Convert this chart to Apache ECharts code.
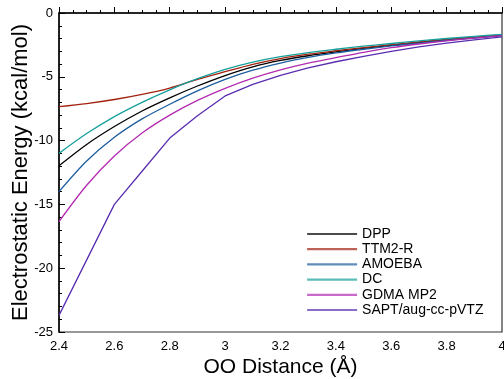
<!DOCTYPE html>
<html>
<head>
<meta charset="utf-8">
<script src="https://cdn.jsdelivr.net/npm/echarts@6/dist/echarts.min.js"></script>
<style>html,body{margin:0;padding:0;background:#fff}#c{width:504px;height:379px}</style>
</head>
<body>
<div id="c"></div>
<script>
const distances = [2.4, 2.5, 2.6, 2.7, 2.8, 2.9, 3.0, 3.1, 3.2, 3.3, 3.4, 3.5, 3.6, 3.7, 3.8, 3.9, 4.0];
const seriesNames = ['DPP', 'TTM2-R', 'AMOEBA', 'DC', 'GDMA MP2', 'SAPT/aug-cc-pVTZ'];
const dpp    = [-11.97, -10.3, -8.9, -7.68, -6.65, -5.72, -4.9, -4.22, -3.72, -3.35, -3.05, -2.78, -2.54, -2.32, -2.11, -1.93, -1.74];
const ttm2r  = [-7.34, -7.1, -6.78, -6.38, -5.88, -5.2, -4.6, -4.02, -3.57, -3.23, -2.96, -2.71, -2.48, -2.27, -2.07, -1.89, -1.72];
const amoeba = [-14.0, -11.6, -9.74, -8.3, -7.15, -6.1, -5.2, -4.48, -3.92, -3.48, -3.13, -2.84, -2.58, -2.36, -2.15, -1.96, -1.77];
const dc     = [-11.0, -9.45, -8.12, -7.0, -6.02, -5.15, -4.42, -3.85, -3.42, -3.1, -2.84, -2.6, -2.39, -2.19, -2.0, -1.83, -1.67];
const gdma   = [-16.35, -13.5, -11.2, -9.4, -8.0, -6.85, -5.9, -5.1, -4.45, -3.92, -3.5, -3.08, -2.72, -2.43, -2.18, -1.97, -1.78];
const sapt   = [-23.7, -19.35, -15.0, -12.4, -9.8, -8.05, -6.5, -5.6, -4.88, -4.3, -3.82, -3.4, -3.0, -2.66, -2.36, -2.1, -1.87];
const xTicks = {min: 2.4, max: 4.0, step: 0.2};
const yTicks = {min: -25, max: 0, step: 5};

const values = [dpp, ttm2r, amoeba, dc, gdma, sapt];
const colors = ['#000000', '#a3200f', '#1d5e9e', '#16a09c', '#b22bb0', '#5a2db0'];
const smoothFlags = [0.3, 0.3, 0.3, 0.3, 0.3, false];

const font = '"Liberation Sans", Arial, Helvetica, sans-serif';
const chart = echarts.init(document.getElementById('c'), null, {renderer: 'canvas'});
chart.setOption({
  animation: false,
  backgroundColor: '#fff',
  grid: {left: 59, right: 2, top: 13, bottom: 47, containLabel: false, outerBoundsMode: 'none',
    show: true, borderColor: '#333', borderWidth: 1.2, backgroundColor: 'transparent'},
  legend: {
    orient: 'vertical', left: 301, top: 222,
    itemWidth: 50, itemHeight: 14, itemGap: 1.2,
    data: seriesNames,
    textStyle: {fontFamily: font, fontSize: 14, color: '#000'},
    itemStyle: {opacity: 0},
    lineStyle: {opacity: 0.7, width: 2.2}
  },
  xAxis: {
    type: 'value', min: xTicks.min, max: xTicks.max, interval: xTicks.step,
    name: 'OO Distance (Å)', nameLocation: 'middle', nameGap: 25, nameMoveOverlap: false,
    nameTextStyle: {fontFamily: font, fontSize: 21, color: '#000'},
    axisLine: {lineStyle: {color: '#000', width: 1.5}},
    axisTick: {inside: true, length: 6, lineStyle: {color: '#000'}},
    minorTick: {show: true, splitNumber: 4, length: 3, lineStyle: {color: '#000'}},
    splitLine: {show: false},
    axisLabel: {fontFamily: font, fontSize: 13, color: '#000', margin: 8,
      formatter: v => String(Number(v.toFixed(1)))}
  },
  yAxis: {
    type: 'value', min: yTicks.min, max: yTicks.max, interval: yTicks.step,
    name: 'Electrostatic Energy (kcal/mol)', nameLocation: 'middle', nameGap: 27, nameMoveOverlap: false,
    nameTextStyle: {fontFamily: font, fontSize: 22, color: '#000'},
    axisLine: {lineStyle: {color: '#000', width: 1.5}},
    axisTick: {inside: true, length: 6, lineStyle: {color: '#000'}},
    minorTick: {show: true, splitNumber: 5, length: 3, lineStyle: {color: '#000'}},
    splitLine: {show: false},
    axisLabel: {fontFamily: font, fontSize: 13, color: '#000', margin: 6}
  },
  series: seriesNames.map((name, i) => ({
    name: name, type: 'line', symbol: 'none', smooth: smoothFlags[i],
    color: colors[i],
    lineStyle: {width: 1.3, color: colors[i]},
    data: distances.map((x, j) => [x, values[i][j]])
  }))
});
</script>
</body>
</html>
